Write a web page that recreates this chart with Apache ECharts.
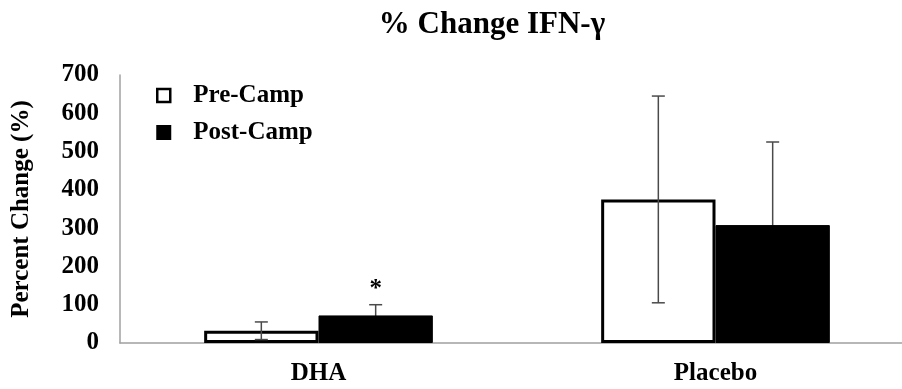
<!DOCTYPE html>
<html><head><meta charset="utf-8">
<script src="https://cdn.jsdelivr.net/npm/echarts@6/dist/echarts.min.js"></script>
<style>html,body{margin:0;padding:0;background:#fff}#c{width:902px;height:389px}</style>
</head><body><div id="c"></div>
<script>
var categories = ['DHA', 'Placebo'];
var preCamp = [32, 375];
var postCamp = [72, 308];
var preErr = [23, 270];
var postErr = [28, 217];
var postSig = ['*', ''];
var yTicks = [0, 100, 200, 300, 400, 500, 600, 700];

var FONT = '"Liberation Serif", "Times New Roman", serif';
var GAP = 0.424;

function errRender(vals, errs, side, sig) {
  return function (params, api) {
    var i = api.value(0);
    var band = api.size([1, 0])[0];
    var barW = band * (1 - GAP) / 2;
    var c = api.coord([i, vals[i]]);
    var x = c[0] + side * barW / 2;
    var top = api.coord([i, vals[i] + errs[i]])[1];
    var bot = api.coord([i, Math.max(vals[i] - errs[i], 0)])[1];
    var cap = 6.5;
    var st = { stroke: '#4a4a4a', lineWidth: 1.5 };
    var ch = [
      { type: 'line', shape: { x1: x, y1: top, x2: x, y2: bot }, style: st },
      { type: 'line', shape: { x1: x - cap, y1: top, x2: x + cap, y2: top }, style: st }
    ];
    if (vals[i] - errs[i] > 0) {
      ch.push({ type: 'line', shape: { x1: x - cap, y1: bot, x2: x + cap, y2: bot }, style: st });
    }
    if (sig && sig[i]) {
      ch.push({ type: 'text', style: { x: x, y: top - 3, text: sig[i], fill: '#000',
        font: 'bold 25px ' + FONT, align: 'center', verticalAlign: 'bottom' } });
    }
    return { type: 'group', children: ch };
  };
}

var chart = echarts.init(document.getElementById('c'));
chart.setOption({
  animation: false,
  backgroundColor: '#fff',
  title: {
    text: '% Change IFN-γ', left: 487, top: 4, textAlign: 'center',
    textStyle: { fontFamily: FONT, fontWeight: 'bold', fontSize: 31, color: '#000' }
  },
  legend: {
    left: 156, top: 83, orient: 'vertical', itemGap: 12, padding: 0,
    itemWidth: 13, itemHeight: 13, icon: 'rect',
    textStyle: { fontFamily: FONT, fontWeight: 'bold', fontSize: 25, color: '#000', padding: [0, 0, 0, 18] },
    data: [
      { name: 'Pre-Camp', itemStyle: { color: '#fff', borderColor: '#000', borderWidth: 2.5 } },
      { name: 'Post-Camp', itemStyle: { color: '#000' } }
    ]
  },
  grid: { left: 120, top: 75, right: -12, bottom: 46, containLabel: false, outerBoundsMode: 'none' },
  xAxis: {
    type: 'category', data: categories,
    axisLine: { lineStyle: { color: '#a0a0a0', width: 1.5 } },
    axisTick: { show: false },
    axisLabel: { fontFamily: FONT, fontWeight: 'bold', fontSize: 25, color: '#000', margin: 18 }
  },
  yAxis: {
    type: 'value', min: yTicks[0], max: yTicks[yTicks.length - 1], interval: 100,
    name: 'Percent Change (%)', nameLocation: 'middle', nameGap: 86, nameRotate: 90,
    nameTextStyle: { fontFamily: FONT, fontWeight: 'bold', fontSize: 25, color: '#000' },
    axisLine: { show: true, lineStyle: { color: '#a0a0a0', width: 1.5 } },
    axisTick: { show: false },
    splitLine: { show: false },
    axisLabel: { fontFamily: FONT, fontWeight: 'bold', fontSize: 25, color: '#000', margin: 21 }
  },
  series: [
    { name: 'Pre-Camp', type: 'bar', data: preCamp, barGap: '0%', barCategoryGap: (GAP * 100) + '%',
      itemStyle: { color: '#fff', borderColor: '#000', borderWidth: 3 }, z: 2 },
    { name: 'Post-Camp', type: 'bar', data: postCamp,
      itemStyle: { color: '#000', borderColor: '#000', borderWidth: 1 }, z: 2 },
    { name: 'preErr', type: 'custom', data: categories.map(function (c, i) { return [i]; }),
      renderItem: errRender(preCamp, preErr, -1, null), z: 5, silent: true, tooltip: { show: false } },
    { name: 'postErr', type: 'custom', data: categories.map(function (c, i) { return [i]; }),
      renderItem: errRender(postCamp, postErr, 1, postSig), z: 1, silent: true, tooltip: { show: false } }
  ]
});
</script></body></html>
